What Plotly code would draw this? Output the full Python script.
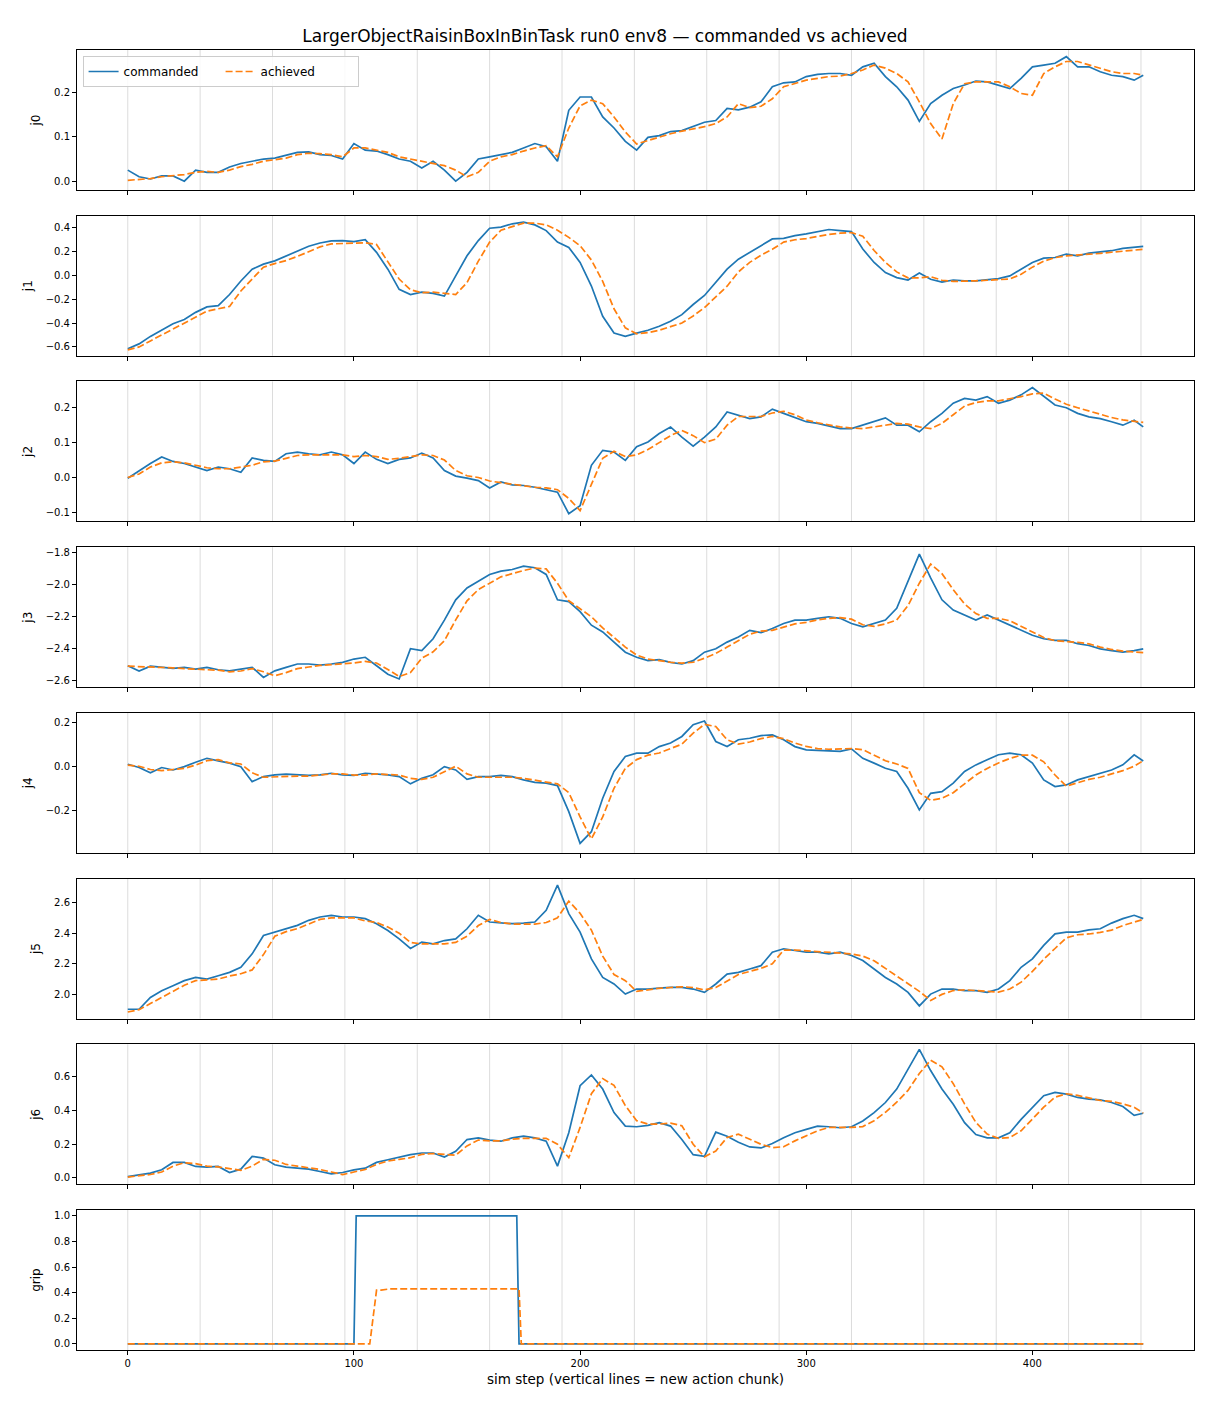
import plotly.graph_objects as go
from plotly.subplots import make_subplots

# sample steps (every 5 sim steps, last one = final step)
STEPS = list(range(0, 450, 5)) + [449]

J0_CMD = [0.025, 0.010, 0.005, 0.012, 0.012, 0.000, 0.025, 0.020, 0.020, 0.032,
          0.040, 0.045, 0.050, 0.052, 0.058, 0.065, 0.066, 0.060, 0.058, 0.050,
          0.085, 0.070, 0.068, 0.060, 0.050, 0.045, 0.030, 0.045, 0.025, 0.000,
          0.020, 0.050, 0.055, 0.060, 0.065, 0.075, 0.085, 0.078, 0.045, 0.160,
          0.190, 0.190, 0.145, 0.120, 0.090, 0.070, 0.099, 0.103, 0.112, 0.114,
          0.123, 0.133, 0.137, 0.164, 0.161, 0.167, 0.179, 0.213, 0.222, 0.224,
          0.236, 0.241, 0.243, 0.243, 0.239, 0.258, 0.266, 0.236, 0.213, 0.183,
          0.135, 0.175, 0.194, 0.209, 0.217, 0.226, 0.224, 0.217, 0.209, 0.232,
          0.258, 0.262, 0.266, 0.281, 0.258, 0.258, 0.247, 0.239, 0.236, 0.228,
          0.239]
J0_ACH = [0.002, 0.004, 0.006, 0.010, 0.012, 0.015, 0.020, 0.022, 0.020, 0.025,
          0.033, 0.038, 0.045, 0.048, 0.052, 0.060, 0.063, 0.062, 0.060, 0.055,
          0.075, 0.075, 0.070, 0.065, 0.055, 0.050, 0.045, 0.040, 0.035, 0.025,
          0.010, 0.020, 0.045, 0.055, 0.060, 0.068, 0.075, 0.080, 0.055, 0.120,
          0.170, 0.183, 0.175, 0.145, 0.111, 0.084, 0.092, 0.099, 0.107, 0.113,
          0.118, 0.123, 0.130, 0.145, 0.175, 0.166, 0.169, 0.186, 0.213, 0.220,
          0.228, 0.232, 0.236, 0.237, 0.243, 0.251, 0.262, 0.255, 0.243, 0.224,
          0.179, 0.130, 0.095, 0.175, 0.220, 0.224, 0.224, 0.224, 0.213, 0.198,
          0.194, 0.243, 0.258, 0.270, 0.270, 0.262, 0.255, 0.247, 0.243, 0.243,
          0.239]

J1_CMD = [-0.615, -0.575, -0.512, -0.460, -0.405, -0.370, -0.310, -0.264, -0.253, -0.160,
          -0.046, 0.053, 0.095, 0.123, 0.165, 0.208, 0.245, 0.273, 0.290, 0.293,
          0.284, 0.300, 0.194, 0.053, -0.117, -0.160, -0.140, -0.150, -0.173, -0.004,
          0.165, 0.293, 0.397, 0.406, 0.434, 0.448, 0.425, 0.377, 0.280, 0.236,
          0.110, -0.089, -0.343, -0.484, -0.512, -0.484, -0.460, -0.427, -0.385, -0.329,
          -0.244, -0.168, -0.060, 0.053, 0.137, 0.194, 0.256, 0.307, 0.312, 0.335,
          0.349, 0.369, 0.386, 0.377, 0.369, 0.222, 0.109, 0.024, -0.018, -0.038,
          0.020, -0.032, -0.055, -0.038, -0.046, -0.046, -0.038, -0.027, -0.004, 0.053,
          0.109, 0.146, 0.151, 0.180, 0.165, 0.188, 0.199, 0.208, 0.228, 0.236,
          0.245]
J1_ACH = [-0.625, -0.600, -0.550, -0.500, -0.450, -0.400, -0.350, -0.300, -0.280, -0.260,
          -0.130, -0.030, 0.070, 0.100, 0.125, 0.160, 0.200, 0.240, 0.265, 0.270,
          0.270, 0.275, 0.260, 0.120, -0.030, -0.120, -0.145, -0.140, -0.150, -0.160,
          -0.060, 0.120, 0.280, 0.380, 0.410, 0.440, 0.440, 0.425, 0.380, 0.320,
          0.250, 0.130, -0.050, -0.280, -0.440, -0.490, -0.480, -0.460, -0.430, -0.400,
          -0.340, -0.270, -0.180, -0.090, 0.030, 0.110, 0.170, 0.220, 0.280, 0.300,
          0.310, 0.330, 0.345, 0.355, 0.360, 0.330, 0.210, 0.110, 0.030, -0.020,
          -0.020, -0.010, -0.040, -0.050, -0.050, -0.045, -0.040, -0.035, -0.030, 0.010,
          0.070, 0.120, 0.150, 0.165, 0.170, 0.175, 0.185, 0.195, 0.205, 0.215,
          0.220]

J2_CMD = [-0.002, 0.020, 0.040, 0.059, 0.046, 0.040, 0.030, 0.020, 0.030, 0.025,
          0.015, 0.056, 0.049, 0.046, 0.068, 0.073, 0.068, 0.065, 0.073, 0.065,
          0.040, 0.073, 0.052, 0.040, 0.052, 0.056, 0.070, 0.056, 0.020, 0.004,
          -0.002, -0.009, -0.030, -0.013, -0.021, -0.023, -0.028, -0.035, -0.042, -0.104,
          -0.081, 0.035, 0.078, 0.073, 0.049, 0.088, 0.102, 0.126, 0.145, 0.116,
          0.090, 0.116, 0.145, 0.188, 0.179, 0.169, 0.174, 0.196, 0.184, 0.171,
          0.160, 0.155, 0.147, 0.140, 0.140, 0.150, 0.160, 0.171, 0.150, 0.150,
          0.131, 0.160, 0.184, 0.213, 0.227, 0.222, 0.232, 0.213, 0.222, 0.237,
          0.258, 0.232, 0.208, 0.200, 0.184, 0.174, 0.169, 0.160, 0.150, 0.164,
          0.145]
J2_ACH = [0.000, 0.010, 0.030, 0.042, 0.045, 0.042, 0.035, 0.028, 0.025, 0.025,
          0.030, 0.035, 0.045, 0.047, 0.055, 0.063, 0.065, 0.065, 0.065, 0.065,
          0.060, 0.063, 0.060, 0.052, 0.055, 0.060, 0.065, 0.063, 0.050, 0.020,
          0.005, 0.000, -0.010, -0.015, -0.020, -0.023, -0.028, -0.030, -0.035, -0.060,
          -0.095, -0.020, 0.055, 0.075, 0.060, 0.065, 0.080, 0.100, 0.120, 0.135,
          0.120, 0.100, 0.110, 0.150, 0.175, 0.175, 0.175, 0.185, 0.190, 0.180,
          0.165, 0.157, 0.150, 0.145, 0.142, 0.140, 0.145, 0.150, 0.155, 0.153,
          0.145, 0.140, 0.155, 0.180, 0.205, 0.215, 0.220, 0.220, 0.225, 0.232,
          0.240, 0.242, 0.225, 0.210, 0.200, 0.190, 0.180, 0.172, 0.165, 0.160,
          0.158]

J3_CMD = [-2.507, -2.540, -2.510, -2.517, -2.524, -2.517, -2.528, -2.517, -2.532, -2.539,
          -2.528, -2.517, -2.580, -2.539, -2.517, -2.496, -2.496, -2.503, -2.496, -2.486,
          -2.465, -2.454, -2.507, -2.560, -2.590, -2.400, -2.412, -2.338, -2.221, -2.094,
          -2.020, -1.978, -1.935, -1.914, -1.904, -1.883, -1.893, -1.935, -2.094, -2.105,
          -2.168, -2.253, -2.295, -2.359, -2.422, -2.454, -2.475, -2.469, -2.486, -2.496,
          -2.475, -2.422, -2.401, -2.359, -2.327, -2.285, -2.300, -2.274, -2.242, -2.221,
          -2.221, -2.210, -2.200, -2.210, -2.242, -2.263, -2.242, -2.221, -2.147, -1.978,
          -1.808, -1.957, -2.094, -2.158, -2.189, -2.221, -2.189, -2.221, -2.253, -2.285,
          -2.316, -2.338, -2.348, -2.348, -2.369, -2.380, -2.401, -2.412, -2.422, -2.412,
          -2.401]
J3_ACH = [-2.510, -2.512, -2.515, -2.518, -2.520, -2.525, -2.530, -2.532, -2.535, -2.545,
          -2.540, -2.525, -2.545, -2.570, -2.550, -2.525, -2.515, -2.505, -2.500, -2.495,
          -2.490, -2.480, -2.490, -2.530, -2.575, -2.550, -2.460, -2.420, -2.350, -2.220,
          -2.100, -2.030, -1.990, -1.950, -1.930, -1.910, -1.895, -1.900, -1.990, -2.100,
          -2.150, -2.200, -2.270, -2.330, -2.390, -2.440, -2.465, -2.475, -2.485, -2.490,
          -2.485, -2.460, -2.430, -2.390, -2.350, -2.310, -2.290, -2.285, -2.265, -2.245,
          -2.235, -2.220, -2.210, -2.205, -2.215, -2.250, -2.260, -2.245, -2.220, -2.130,
          -1.990, -1.870, -1.930, -2.030, -2.120, -2.180, -2.210, -2.210, -2.225, -2.260,
          -2.300, -2.330, -2.350, -2.355, -2.360, -2.370, -2.390, -2.405, -2.415, -2.420,
          -2.425]

J4_CMD = [0.009, -0.006, -0.030, -0.006, -0.017, -0.002, 0.018, 0.036, 0.024, 0.014,
          -0.002, -0.070, -0.047, -0.039, -0.036, -0.039, -0.042, -0.039, -0.032, -0.039,
          -0.042, -0.032, -0.036, -0.039, -0.047, -0.080, -0.055, -0.039, -0.002, -0.017,
          -0.060, -0.047, -0.047, -0.042, -0.047, -0.062, -0.073, -0.077, -0.088, -0.206,
          -0.350, -0.297, -0.145, -0.024, 0.044, 0.059, 0.059, 0.089, 0.105, 0.135,
          0.188, 0.205, 0.112, 0.089, 0.120, 0.127, 0.139, 0.142, 0.120, 0.089,
          0.074, 0.071, 0.067, 0.067, 0.079, 0.036, 0.014, -0.009, -0.024, -0.100,
          -0.198, -0.123, -0.115, -0.077, -0.024, 0.006, 0.029, 0.052, 0.059, 0.052,
          0.014, -0.062, -0.092, -0.085, -0.062, -0.047, -0.032, -0.017, 0.006, 0.052,
          0.024]
J4_ACH = [0.005, 0.000, -0.015, -0.020, -0.015, -0.010, 0.005, 0.025, 0.030, 0.015,
          0.010, -0.030, -0.050, -0.048, -0.045, -0.045, -0.045, -0.040, -0.035, -0.035,
          -0.040, -0.040, -0.035, -0.038, -0.040, -0.055, -0.060, -0.050, -0.025, 0.000,
          -0.035, -0.050, -0.050, -0.050, -0.050, -0.055, -0.065, -0.072, -0.080, -0.120,
          -0.230, -0.330, -0.230, -0.100, -0.010, 0.030, 0.050, 0.060, 0.080, 0.100,
          0.150, 0.190, 0.180, 0.120, 0.100, 0.110, 0.125, 0.135, 0.125, 0.105,
          0.090, 0.080, 0.077, 0.077, 0.080, 0.075, 0.050, 0.025, 0.010, -0.010,
          -0.120, -0.155, -0.145, -0.120, -0.080, -0.040, -0.010, 0.015, 0.035, 0.050,
          0.050, 0.020, -0.040, -0.090, -0.075, -0.060, -0.050, -0.035, -0.020, 0.000,
          0.025]

J5_CMD = [1.903, 1.903, 1.980, 2.024, 2.057, 2.090, 2.111, 2.100, 2.122, 2.144,
          2.177, 2.265, 2.385, 2.407, 2.429, 2.451, 2.484, 2.506, 2.517, 2.506,
          2.506, 2.495, 2.462, 2.418, 2.363, 2.300, 2.342, 2.331, 2.352, 2.363,
          2.429, 2.517, 2.473, 2.466, 2.462, 2.466, 2.473, 2.550, 2.714, 2.528,
          2.407, 2.232, 2.111, 2.068, 2.002, 2.035, 2.035, 2.041, 2.046, 2.046,
          2.035, 2.013, 2.068, 2.133, 2.144, 2.166, 2.188, 2.276, 2.298, 2.287,
          2.276, 2.276, 2.265, 2.276, 2.254, 2.221, 2.166, 2.111, 2.068, 2.013,
          1.925, 2.002, 2.035, 2.035, 2.024, 2.024, 2.013, 2.035, 2.090, 2.177,
          2.232, 2.320, 2.396, 2.407, 2.407, 2.422, 2.429, 2.466, 2.495, 2.517,
          2.495]
J5_ACH = [1.885, 1.900, 1.940, 1.980, 2.020, 2.060, 2.090, 2.095, 2.100, 2.120,
          2.135, 2.160, 2.260, 2.380, 2.410, 2.430, 2.460, 2.490, 2.500, 2.500,
          2.500, 2.480, 2.470, 2.440, 2.400, 2.340, 2.330, 2.330, 2.330, 2.340,
          2.380, 2.450, 2.490, 2.470, 2.460, 2.460, 2.460, 2.470, 2.500, 2.610,
          2.530, 2.420, 2.250, 2.130, 2.090, 2.020, 2.030, 2.040, 2.045, 2.050,
          2.045, 2.030, 2.045, 2.090, 2.130, 2.150, 2.170, 2.200, 2.290, 2.290,
          2.285, 2.280, 2.275, 2.270, 2.265, 2.250, 2.220, 2.170, 2.120, 2.070,
          2.020, 1.960, 2.000, 2.025, 2.030, 2.025, 2.020, 2.015, 2.035, 2.080,
          2.150, 2.230, 2.300, 2.370, 2.390, 2.395, 2.405, 2.420, 2.450, 2.475,
          2.490]

J6_CMD = [0.008, 0.018, 0.028, 0.048, 0.092, 0.092, 0.068, 0.064, 0.068, 0.032,
          0.052, 0.128, 0.118, 0.078, 0.064, 0.058, 0.052, 0.038, 0.024, 0.032,
          0.048, 0.058, 0.092, 0.108, 0.124, 0.138, 0.148, 0.148, 0.124, 0.158,
          0.228, 0.238, 0.224, 0.218, 0.238, 0.248, 0.238, 0.218, 0.070, 0.268,
          0.548, 0.612, 0.528, 0.388, 0.308, 0.304, 0.312, 0.328, 0.308, 0.228,
          0.138, 0.128, 0.272, 0.248, 0.212, 0.184, 0.178, 0.204, 0.238, 0.268,
          0.288, 0.308, 0.304, 0.298, 0.304, 0.338, 0.388, 0.448, 0.528, 0.648,
          0.764, 0.638, 0.528, 0.438, 0.328, 0.258, 0.238, 0.238, 0.268, 0.348,
          0.418, 0.488, 0.508, 0.498, 0.478, 0.468, 0.464, 0.448, 0.424, 0.372,
          0.384]
J6_ACH = [0.005, 0.012, 0.020, 0.035, 0.070, 0.090, 0.085, 0.070, 0.065, 0.055,
          0.045, 0.070, 0.110, 0.105, 0.080, 0.070, 0.060, 0.050, 0.035, 0.020,
          0.035, 0.050, 0.080, 0.100, 0.110, 0.120, 0.140, 0.145, 0.140, 0.135,
          0.190, 0.225, 0.220, 0.220, 0.230, 0.235, 0.235, 0.235, 0.200, 0.120,
          0.300, 0.500, 0.590, 0.550, 0.430, 0.340, 0.320, 0.320, 0.325, 0.310,
          0.200, 0.125, 0.160, 0.240, 0.260, 0.230, 0.200, 0.180, 0.185, 0.220,
          0.250, 0.280, 0.300, 0.300, 0.300, 0.305, 0.340, 0.390, 0.450, 0.520,
          0.620, 0.700, 0.660, 0.560, 0.440, 0.330, 0.260, 0.235, 0.240, 0.280,
          0.350, 0.420, 0.480, 0.500, 0.490, 0.475, 0.460, 0.455, 0.440, 0.420,
          0.385]

# gripper is a step signal, so only the corners are listed
GRIP_CMD_STEPS = [0, 100, 101, 172, 173, 449]
GRIP_CMD = [0.0, 0.0, 1.0, 1.0, 0.0, 0.0]
GRIP_ACH_STEPS = [0, 107, 110, 112, 116, 173, 174, 449]
GRIP_ACH = [0.0, 0.0, 0.42, 0.42, 0.43, 0.43, 0.0, 0.0]

LABELS = ['j0', 'j1', 'j2', 'j3', 'j4', 'j5', 'j6', 'grip']
CHUNK_STEPS = list(range(0, 449, 32))

panels = [
    (STEPS, J0_CMD, STEPS, J0_ACH),
    (STEPS, J1_CMD, STEPS, J1_ACH),
    (STEPS, J2_CMD, STEPS, J2_ACH),
    (STEPS, J3_CMD, STEPS, J3_ACH),
    (STEPS, J4_CMD, STEPS, J4_ACH),
    (STEPS, J5_CMD, STEPS, J5_ACH),
    (STEPS, J6_CMD, STEPS, J6_ACH),
    (GRIP_CMD_STEPS, GRIP_CMD, GRIP_ACH_STEPS, GRIP_ACH),
]

# axis ranges / ticks (matplotlib auto limits)
y_ranges = [[-0.0198, 0.296], [-0.674, 0.502], [-0.126, 0.2755], [-2.641, -1.764],
            [-0.393, 0.242], [1.842, 2.757], [-0.038, 0.794], [-0.047, 1.045]]
y_dticks = [0.1, 0.2, 0.1, 0.2, 0.2, 0.2, 0.2, 0.2]

BLUE = '#1f77b4'
ORANGE = '#ff7f0e'
FONT = 'DejaVu Sans'

# page body has an 8px margin, so the figure is 8px smaller than the window
W, H = 1202, 1400

fig = make_subplots(rows=8, cols=1, shared_xaxes=True, vertical_spacing=0.0198)

for i, (xc, yc, xa, ya) in enumerate(panels):
    row = i + 1
    fig.add_trace(go.Scatter(x=xc, y=yc, mode='lines', name='commanded',
                             line=dict(color=BLUE, width=1.7),
                             showlegend=(i == 0)), row=row, col=1)
    fig.add_trace(go.Scatter(x=xa, y=ya, mode='lines', name='achieved',
                             line=dict(color=ORANGE, width=1.7, dash='7px,3px'),
                             showlegend=(i == 0)), row=row, col=1)
    fig.update_yaxes(range=y_ranges[i], dtick=y_dticks[i], tickformat='.1f',
                     title=dict(text=LABELS[i], font=dict(size=12, color='black'), standoff=10),
                     row=row, col=1)

# chunk boundaries
for s in CHUNK_STEPS:
    fig.add_vline(x=s, line=dict(color='#dcdcdc', width=1), layer='below', row='all', col=1)

axis_style = dict(showline=True, mirror=True, linecolor='black', linewidth=1,
                  ticks='outside', ticklen=4, tickcolor='black', showgrid=False,
                  zeroline=False, tickfont=dict(size=10, color='black'))
fig.update_xaxes(range=[-22.45, 471.45], dtick=100, **axis_style)
fig.update_yaxes(**axis_style)
fig.update_xaxes(title=dict(text='sim step (vertical lines = new action chunk)',
                            font=dict(size=13.5, color='black'), standoff=6),
                 row=8, col=1)

fig.update_layout(
    width=W, height=H,
    margin=dict(l=69, r=16, t=42, b=58),
    paper_bgcolor='white', plot_bgcolor='white',
    font=dict(family=FONT, color='black'),
    title=dict(text='LargerObjectRaisinBoxInBinTask run0 env8 \u2014 commanded vs achieved',
               x=597 / W, xref='container', xanchor='center',
               y=1 - 28 / H, yref='container', yanchor='middle',
               font=dict(size=17, color='black')),
    legend=dict(orientation='h', x=0.005, y=0.9954, xanchor='left', yanchor='top',
                bgcolor='rgba(255,255,255,0.85)', bordercolor='#cccccc', borderwidth=1,
                font=dict(size=12), itemwidth=30, entrywidth=92, entrywidthmode='pixels'),
)

fig.write_html("out.html")
